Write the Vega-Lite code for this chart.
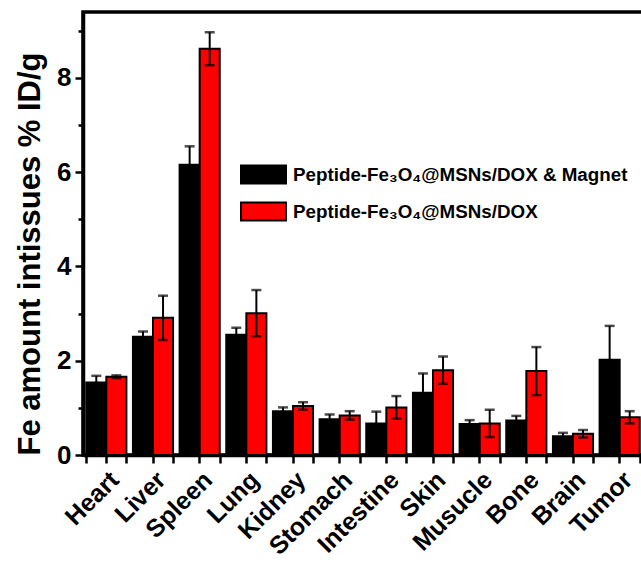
{
  "$schema": "https://vega.github.io/schema/vega-lite/v6.json",
  "width": 560,
  "height": 443,
  "autosize": "none",
  "padding": {"left": 83, "top": 12, "right": 0, "bottom": 121},
  "background": "white",
  "config": {
    "font": "Liberation Sans",
    "view": {"stroke": "black", "strokeWidth": 3.5}
  },
  "data": {
    "values": [
      {"organ": "Heart", "group": "Peptide-Fe₃O₄@MSNs/DOX & Magnet", "value": 1.54, "lo": 1.40, "hi": 1.68},
      {"organ": "Heart", "group": "Peptide-Fe₃O₄@MSNs/DOX", "value": 1.66, "lo": 1.63, "hi": 1.69},
      {"organ": "Liver", "group": "Peptide-Fe₃O₄@MSNs/DOX & Magnet", "value": 2.51, "lo": 2.40, "hi": 2.62},
      {"organ": "Liver", "group": "Peptide-Fe₃O₄@MSNs/DOX", "value": 2.91, "lo": 2.44, "hi": 3.38},
      {"organ": "Spleen", "group": "Peptide-Fe₃O₄@MSNs/DOX & Magnet", "value": 6.16, "lo": 5.77, "hi": 6.55},
      {"organ": "Spleen", "group": "Peptide-Fe₃O₄@MSNs/DOX", "value": 8.62, "lo": 8.27, "hi": 8.97},
      {"organ": "Lung", "group": "Peptide-Fe₃O₄@MSNs/DOX & Magnet", "value": 2.55, "lo": 2.40, "hi": 2.70},
      {"organ": "Lung", "group": "Peptide-Fe₃O₄@MSNs/DOX", "value": 3.01, "lo": 2.52, "hi": 3.50},
      {"organ": "Kidney", "group": "Peptide-Fe₃O₄@MSNs/DOX & Magnet", "value": 0.93, "lo": 0.85, "hi": 1.01},
      {"organ": "Kidney", "group": "Peptide-Fe₃O₄@MSNs/DOX", "value": 1.04, "lo": 0.96, "hi": 1.12},
      {"organ": "Stomach", "group": "Peptide-Fe₃O₄@MSNs/DOX & Magnet", "value": 0.76, "lo": 0.66, "hi": 0.86},
      {"organ": "Stomach", "group": "Peptide-Fe₃O₄@MSNs/DOX", "value": 0.84, "lo": 0.75, "hi": 0.93},
      {"organ": "Intestine", "group": "Peptide-Fe₃O₄@MSNs/DOX & Magnet", "value": 0.67, "lo": 0.42, "hi": 0.92},
      {"organ": "Intestine", "group": "Peptide-Fe₃O₄@MSNs/DOX", "value": 1.01, "lo": 0.77, "hi": 1.25},
      {"organ": "Skin", "group": "Peptide-Fe₃O₄@MSNs/DOX & Magnet", "value": 1.32, "lo": 0.91, "hi": 1.73},
      {"organ": "Skin", "group": "Peptide-Fe₃O₄@MSNs/DOX", "value": 1.80, "lo": 1.51, "hi": 2.09},
      {"organ": "Musucle", "group": "Peptide-Fe₃O₄@MSNs/DOX & Magnet", "value": 0.66, "lo": 0.58, "hi": 0.74},
      {"organ": "Musucle", "group": "Peptide-Fe₃O₄@MSNs/DOX", "value": 0.67, "lo": 0.38, "hi": 0.96},
      {"organ": "Bone", "group": "Peptide-Fe₃O₄@MSNs/DOX & Magnet", "value": 0.73, "lo": 0.63, "hi": 0.83},
      {"organ": "Bone", "group": "Peptide-Fe₃O₄@MSNs/DOX", "value": 1.78, "lo": 1.27, "hi": 2.29},
      {"organ": "Brain", "group": "Peptide-Fe₃O₄@MSNs/DOX & Magnet", "value": 0.40, "lo": 0.33, "hi": 0.47},
      {"organ": "Brain", "group": "Peptide-Fe₃O₄@MSNs/DOX", "value": 0.45, "lo": 0.37, "hi": 0.53},
      {"organ": "Tumor", "group": "Peptide-Fe₃O₄@MSNs/DOX & Magnet", "value": 2.02, "lo": 1.30, "hi": 2.74},
      {"organ": "Tumor", "group": "Peptide-Fe₃O₄@MSNs/DOX", "value": 0.80, "lo": 0.67, "hi": 0.93}
    ]
  },
  "layer": [
    {
      "mark": {"type": "bar", "stroke": "black", "strokeWidth": 2},
      "encoding": {
        "x": {
          "field": "organ", "type": "nominal", "sort": null,
          "scale": {"paddingInner": 0.14, "paddingOuter": 0.07},
          "axis": {
            "title": null, "orient": "bottom",
            "labelAngle": -45,
            "labelFontSize": 25, "labelFontWeight": "bold", "labelColor": "black",
            "labelPadding": 4,
            "tickSize": 8, "tickWidth": 2.5, "tickColor": "black",
            "domainWidth": 3.5, "domainColor": "black"
          }
        },
        "xOffset": {"field": "group", "type": "nominal", "scale": {"domain": ["Peptide-Fe₃O₄@MSNs/DOX & Magnet", "Peptide-Fe₃O₄@MSNs/DOX"]}},
        "y": {
          "field": "value", "type": "quantitative",
          "scale": {"domain": [0, 9.4], "nice": false},
          "axis": {
            "title": "Fe amount intissues % ID/g",
            "titleFontSize": 31, "titleFontWeight": "bold", "titleColor": "black",
            "titleAnchor": "start", "titlePadding": 10,
            "values": [0, 1, 2, 3, 4, 5, 6, 7, 8, 9],
            "labelExpr": "datum.value % 2 == 0 ? datum.label : ''",
            "labelFontSize": 26, "labelFontWeight": "bold", "labelColor": "black", "labelPadding": 4,
            "tickSize": {"condition": {"test": "datum.value % 2 == 0", "value": 8}, "value": 5},
            "tickWidth": 2.5, "tickColor": "black",
            "domainWidth": 3.5, "domainColor": "black", "grid": false
          }
        },
        "color": {
          "field": "group", "type": "nominal",
          "scale": {"domain": ["Peptide-Fe₃O₄@MSNs/DOX & Magnet", "Peptide-Fe₃O₄@MSNs/DOX"], "range": ["#000000", "#ff0000"]},
          "legend": {
            "title": null, "orient": "none", "legendX": 157, "legendY": 139,
            "symbolType": "M-1,-0.4H1V0.4H-1Z", "symbolSize": 2025,
            "symbolStrokeColor": "black", "symbolStrokeWidth": 2, "symbolOpacity": 1,
            "labelFontSize": 18.8, "labelFontWeight": "bold", "labelColor": "black", "labelOffset": 6,
            "labelLimit": 400, "rowPadding": -4
          }
        }
      }
    },
    {
      "mark": {"type": "rule", "strokeWidth": 2, "color": "black"},
      "encoding": {
        "x": {
          "field": "organ", "type": "nominal", "sort": null,
          "axis": {"orient": "bottom", "title": null, "labels": false, "domain": false, "tickBand": "extent", "tickSize": 8, "tickWidth": 2.5, "tickColor": "black"}
        },
        "xOffset": {"field": "group", "type": "nominal"},
        "y": {"field": "lo", "type": "quantitative"},
        "y2": {"field": "hi"}
      }
    },
    {
      "mark": {"type": "tick", "thickness": 2.5, "size": 10, "color": "black"},
      "encoding": {
        "x": {"field": "organ", "type": "nominal", "sort": null, "axis": null},
        "xOffset": {"field": "group", "type": "nominal"},
        "y": {"field": "hi", "type": "quantitative"}
      }
    },
    {
      "mark": {"type": "tick", "thickness": 2.5, "size": 10, "color": "black"},
      "encoding": {
        "x": {"field": "organ", "type": "nominal", "sort": null, "axis": null},
        "xOffset": {"field": "group", "type": "nominal"},
        "y": {"field": "lo", "type": "quantitative"}
      }
    }
  ],
  "resolve": {"axis": {"x": "independent"}}
}
